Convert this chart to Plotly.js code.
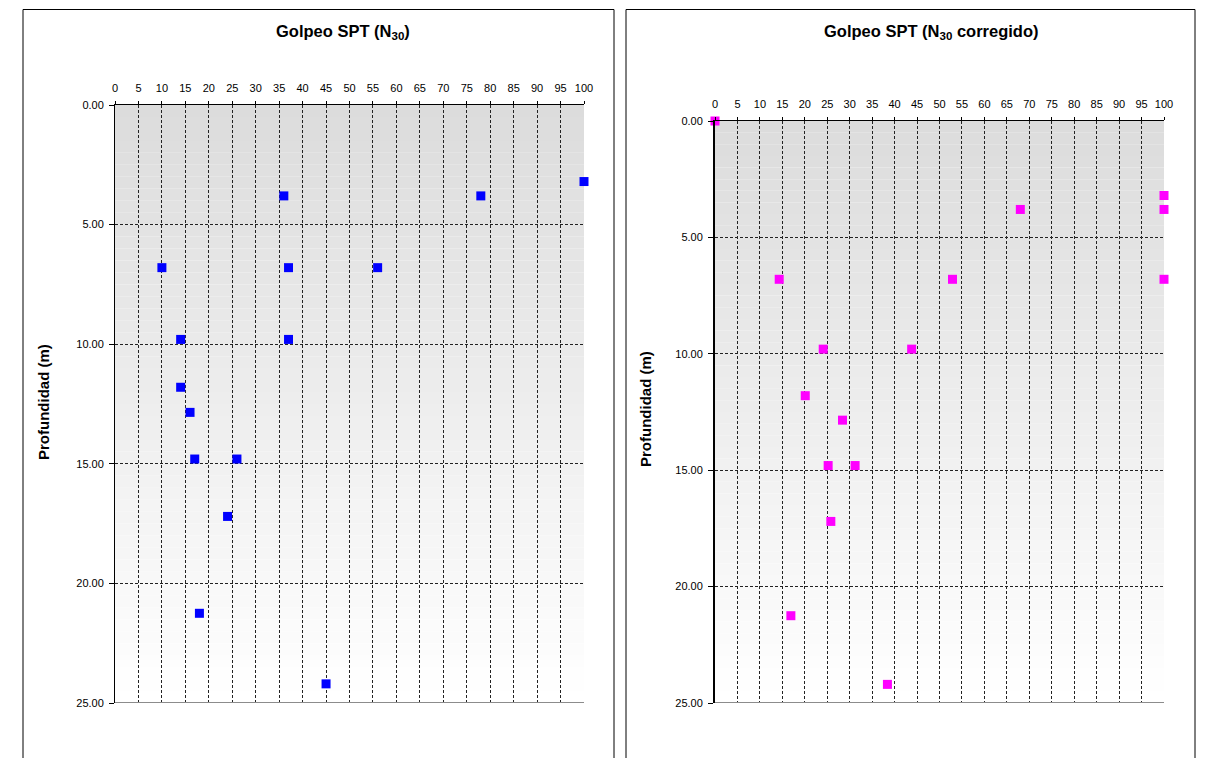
<!DOCTYPE html>
<html>
<head>
<meta charset="utf-8">
<script src="https://cdn.plot.ly/plotly-3.0.1.min.js"></script>
<style>html,body{margin:0;padding:0;background:#fff}#chart{width:1214px;height:758px}</style>
</head>
<body>
<div id="chart"></div>
<script>
// Left chart: Golpeo SPT (N30)
const n30 = [100, 36, 78, 10, 37, 56, 14, 37, 14, 16, 17, 26, 24, 18, 45];
const depthN30 = [3.2, 3.8, 3.8, 6.8, 6.8, 6.8, 9.8, 9.8, 11.8, 12.85, 14.8, 14.8, 17.2, 21.25, 24.2];
// Right chart: Golpeo SPT (N30 corregido)
const n30Corr = [0, 100, 100, 68, 14.3, 52.9, 100, 24.1, 43.8, 20.1, 28.4, 25.2, 31.2, 25.8, 16.9, 38.4];
const depthCorr = [0, 3.2, 3.8, 3.8, 6.8, 6.8, 6.8, 9.8, 9.8, 11.8, 12.85, 14.8, 14.8, 17.2, 21.25, 24.2];

const titleLeft = '<b>Golpeo SPT (N<sub>30</sub>)</b>';
const titleRight = '<b>Golpeo SPT (N<sub>30</sub> corregido)</b>';
const yTitle = '<b>Profundidad (m)</b>';

const W = 1214, H = 758;
const px = v => v / W;
const py = v => 1 - v / H;

const FONT = 'Liberation Sans, Arial, sans-serif';

const traces = [
  {x: n30, y: depthN30, xaxis: 'x', yaxis: 'y', type: 'scatter', mode: 'markers',
   marker: {symbol: 'square', size: 9, color: '#0000ff'}, cliponaxis: false, hoverinfo: 'x+y'},
  {x: n30Corr, y: depthCorr, xaxis: 'x2', yaxis: 'y2', type: 'scatter', mode: 'markers',
   marker: {symbol: 'square', size: 9, color: '#ff00ff'}, cliponaxis: false, hoverinfo: 'x+y'}
];

function xAx(domain, anchor) {
  return {
    domain: domain, anchor: anchor, side: 'top', range: [0, 100], dtick: 5, tick0: 0,
    showgrid: true, gridcolor: '#222', griddash: '3px,2px', gridwidth: 1,
    showline: true, linecolor: '#000', linewidth: 1,
    ticks: 'outside', ticklen: 3, tickcolor: '#000', ticklabelstandoff: 5,
    tickfont: {family: FONT, size: 11, color: '#000'}, zeroline: false, fixedrange: true
  };
}
function yAx(domain, anchor, lw) {
  return {
    domain: domain, anchor: anchor, range: [25, 0], dtick: 5, tick0: 0, tickformat: '.2f',
    showgrid: true, gridcolor: '#222', griddash: '3px,2px', gridwidth: 1,
    showline: true, linecolor: '#000', linewidth: lw,
    ticks: 'outside', ticklen: 5, tickcolor: '#000', ticklabelstandoff: 3,
    tickfont: {family: FONT, size: 11, color: '#000'}, zeroline: false, fixedrange: true
  };
}

const shapes = [];
// gradient background strips (below gridlines)
const N = 50;
[['x', 'y'], ['x2', 'y2']].forEach(([xa, ya]) => {
  for (let i = 0; i < N; i++) {
    const g = Math.round(220 + 35 * i / (N - 1));
    shapes.push({type: 'rect', layer: 'below', xref: xa + ' domain', yref: ya,
      x0: 0, x1: 1, y0: 25 * i / N, y1: 25 * (i + 1) / N,
      fillcolor: `rgb(${g},${g},${g})`, line: {width: 0}});
  }
  // bottom grey line at 25
  shapes.push({type: 'line', layer: 'above', xref: xa + ' domain', yref: ya,
    x0: 0, x1: 1, y0: 25, y1: 25, line: {color: '#8c8c8c', width: 2}});
});
// panel frames
shapes.push({type: 'rect', xref: 'paper', yref: 'paper', x0: px(23), x1: px(614), y0: -0.05, y1: py(9.5),
  line: {color: '#000', width: 1}, fillcolor: 'rgba(0,0,0,0)', layer: 'below'});
shapes.push({type: 'rect', xref: 'paper', yref: 'paper', x0: px(626), x1: px(1195), y0: -0.05, y1: py(9.5),
  line: {color: '#000', width: 1}, fillcolor: 'rgba(0,0,0,0)', layer: 'below'});

const annotations = [
  {text: titleLeft, xref: 'paper', yref: 'paper', x: px(343), y: py(32), showarrow: false,
   font: {family: FONT, size: 16.5, color: '#000'}, xanchor: 'center', yanchor: 'middle'},
  {text: titleRight, xref: 'paper', yref: 'paper', x: px(931), y: py(32), showarrow: false,
   font: {family: FONT, size: 16.5, color: '#000'}, xanchor: 'center', yanchor: 'middle'},
  {text: yTitle, xref: 'paper', yref: 'paper', x: px(43), y: py(402), showarrow: false, textangle: -90,
   font: {family: FONT, size: 15, color: '#000'}, xanchor: 'center', yanchor: 'middle'},
  {text: yTitle, xref: 'paper', yref: 'paper', x: px(645), y: py(409), showarrow: false, textangle: -90,
   font: {family: FONT, size: 15, color: '#000'}, xanchor: 'center', yanchor: 'middle'}
];

const layout = {
  width: W, height: H, margin: {l: 0, r: 0, t: 0, b: 0},
  paper_bgcolor: '#fff', plot_bgcolor: '#fff', showlegend: false,
  xaxis: xAx([px(115), px(584)], 'y'),
  yaxis: yAx([py(703), py(105)], 'x', 1),
  xaxis2: xAx([px(715), px(1164)], 'y2'),
  yaxis2: yAx([py(703), py(121)], 'x2', 2),
  shapes: shapes, annotations: annotations,
  font: {family: FONT, color: '#000'}
};

Plotly.newPlot('chart', traces, layout, {displayModeBar: false, staticPlot: true});
</script>
</body>
</html>
